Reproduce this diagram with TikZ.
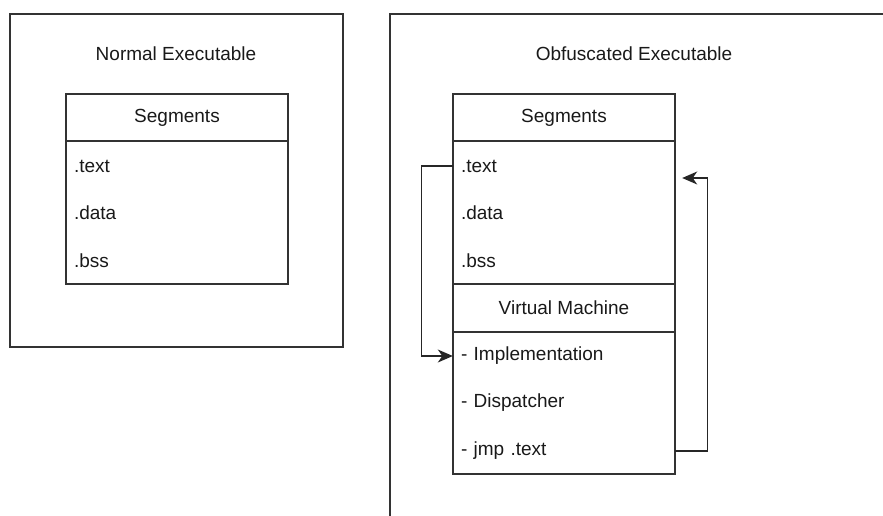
\documentclass[tikz,border=0pt]{standalone}
\usepackage{fontspec}
\setmainfont{Liberation Sans}
\usetikzlibrary{arrows.meta}
\begin{document}
\begin{tikzpicture}[x=1pt,y=-1pt,
  every node/.style={font=\fontsize{19}{23}\selectfont, text=black!90},
  frame/.style={draw=black!80, line width=1.3pt},
  cell/.style={frame, minimum width=222pt, inner sep=0pt},
  row/.style={minimum width=222pt, minimum height=47pt, inner sep=0pt,
    text width=206pt, align=left},
  link/.style={draw=black!85, line width=1.3pt,
    -{Stealth[length=15pt, width=13pt, inset=4.5pt]}},
]
\useasboundingbox (0,0) rectangle (883,515);

% Normal executable
\node[frame, minimum width=333pt, minimum height=333pt] (lbox) at (176.5,180.5) {};
\node (ltitle) at (176,54) {Normal Executable};
\node[cell, minimum height=47pt] (lsegh) at (177,117.5) {Segments};
\node[cell, minimum height=143pt] (lsegb) at (177,212.5) {};
\node[row] (ltext) at (177,166) {.text};
\node[row] (ldata) at (177,213) {.data};
\node[row] (lbss)  at (177,261) {.bss};

% Obfuscated executable (frame runs off the page)
\draw[frame] (390,516) -- (390,14) -- (884,14);
\node (rtitle) at (634,54) {Obfuscated Executable};
\node[cell, minimum height=47pt] (rsegh) at (564,117.5) {Segments};
\node[cell, minimum height=143pt] (rsegb) at (564,212.5) {};
\node[cell, minimum height=48pt] (rvmh) at (564,308) {Virtual Machine};
\node[cell, minimum height=142pt] (rvmb) at (564,403) {};
\node[row] (rtext) at (564,166) {.text};
\node[row] (rdata) at (564,213) {.data};
\node[row] (rbss)  at (564,261) {.bss};
\node[row] (rimpl) at (564,356) {- Implementation};
\node[row] (rdisp) at (564,403) {- Dispatcher};
\node[row] (rjmp)  at (564,451) {- jmp .text};

% Control flow
\coordinate (ret) at ([xshift=7pt, yshift=-12pt]rtext.east);
\draw[link] (rtext.west) -- ++(-31,0) |- (rimpl.west);
\draw[link] (rjmp.east) -- ++(32,0) |- (ret);
\end{tikzpicture}
\end{document}
